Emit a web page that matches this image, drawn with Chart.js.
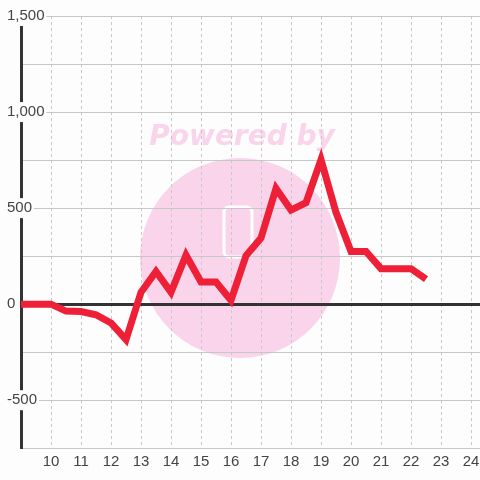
<!DOCTYPE html>
<html lang="en">
<head>
    <meta charset="UTF-8">
    <title>Line chart</title>
    <script src="https://cdn.jsdelivr.net/npm/chart.js"></script>
    <style>
        html, body { margin: 0; padding: 0; background: #fcfdfc; }
        #wrap { width: 480px; height: 480px; }
    </style>
</head>
<body>
    <div id="wrap"><canvas id="grafica"></canvas></div>

    <script>
        // datos
        const horas = [8.5, 9, 9.5, 10, 10.5, 11, 11.5, 12, 12.5, 13, 13.5, 14, 14.5, 15, 15.5, 16, 16.5, 17, 17.5, 18, 18.5, 19, 19.5, 20, 20.5, 21, 21.5, 22, 22.5];
        const valores = [0, 0, 0, 0, -36, -38, -55, -98, -185, 62, 170, 62, 255, 115, 115, 20, 252, 344, 602, 490, 528, 752, 478, 274, 274, 185, 185, 185, 130];
        const marcasX = [10, 11, 12, 13, 14, 15, 16, 17, 18, 19, 20, 21, 22, 23, 24];
        const marcasY = [-500, 0, 500, 1000, 1500];

        const puntos = horas.map((h, i) => ({ x: h, y: valores[i] }));

        // marca de agua rosa detras de la grafica
        const marcaAgua = {
            id: 'marcaAgua',
            beforeDraw(chart) {
                const ctx = chart.ctx;
                ctx.save();
                ctx.fillStyle = '#fcfdfc';
                ctx.fillRect(0, 0, chart.width, chart.height);
                ctx.fillStyle = 'rgb(250,212,234)';
                ctx.beginPath();
                ctx.arc(240, 258, 100, 0, Math.PI * 2);
                ctx.fill();
                ctx.font = 'italic bold 28px "DejaVu Sans"';
                ctx.textAlign = 'center';
                ctx.textBaseline = 'alphabetic';
                ctx.fillText('Powered by', 242, 145, 188);
                ctx.strokeStyle = '#ffffff';
                ctx.lineWidth = 3;
                ctx.beginPath();
                ctx.roundRect(224, 207, 28, 50, 5);
                ctx.stroke();
                ctx.restore();
            }
        };

        const ctx = document.getElementById('grafica').getContext('2d');
        new Chart(ctx, {
            type: 'line',
            data: {
                datasets: [{
                    label: 'Serie',
                    data: puntos,
                    borderColor: 'rgb(238,32,56)',
                    borderWidth: 7,
                    borderJoinStyle: 'miter',
                    pointRadius: 0,
                    tension: 0,
                    fill: false
                }]
            },
            options: {
                responsive: true,
                maintainAspectRatio: false,
                animation: false,
                layout: { padding: { left: 7, top: 16, right: 0, bottom: 4 } },
                plugins: {
                    legend: { display: false },
                    tooltip: { enabled: false }
                },
                scales: {
                    x: {
                        type: 'linear',
                        min: 9,
                        max: 24.3,
                        afterBuildTicks: (scale) => {
                            scale.ticks = marcasX.map(v => ({ value: v }));
                        },
                        grid: {
                            color: '#c8c8c8',
                            lineWidth: 1,
                            drawTicks: false
                        },
                        border: { display: false, dash: [3, 3] },
                        ticks: {
                            padding: 0,
                            color: '#444',
                            font: { family: '"Liberation Sans", Arial', size: 15, lineHeight: 1.85 },
                            maxRotation: 0
                        }
                    },
                    y: {
                        min: -750,
                        max: 1500,
                        afterFit: (scale) => { scale.width = 14; },
                        ticks: {
                            stepSize: 250,
                            mirror: true,
                            padding: -14,
                            color: '#444',
                            font: { family: '"Liberation Sans", Arial', size: 15 },
                            callback: (v) => marcasY.includes(v) ? v.toLocaleString('en-US') : '',
                            showLabelBackdrop: (c) => marcasY.includes(c.tick.value),
                            backdropColor: '#fcfdfc',
                            backdropPadding: { top: 1, bottom: 1, left: 2, right: 2 }
                        },
                        grid: {
                            drawTicks: false,
                            color: (c) => c.tick.value === 0 ? '#333333' : '#c8c8c8',
                            lineWidth: (c) => c.tick.value === 0 ? 3 : 1
                        },
                        border: { display: true, color: '#333333', width: 3 }
                    }
                }
            },
            plugins: [marcaAgua]
        });
    </script>
</body>
</html>
